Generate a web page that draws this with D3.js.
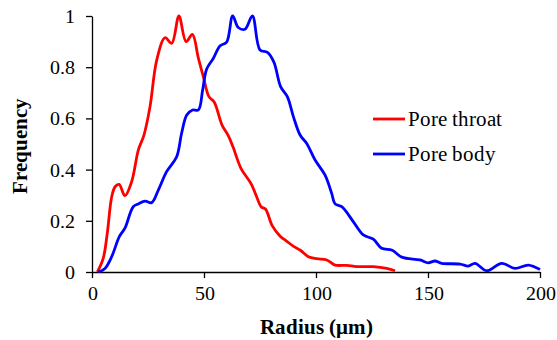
<!DOCTYPE html>
<html><head><meta charset="utf-8">
<script src="https://cdn.jsdelivr.net/npm/d3@7"></script>
<style>
@font-face{font-family:"ChartSerif";src:local("Liberation Serif"),local("LiberationSerif");font-weight:normal;}
@font-face{font-family:"ChartSerif";src:local("Liberation Serif Bold"),local("LiberationSerif-Bold");font-weight:bold;}
body{margin:0;background:#fff;}
svg text{font-family:"ChartSerif","Liberation Serif",serif;}
</style>
</head>
<body>
<svg id="chart" width="557" height="340"></svg>
<script>
const throatRadius = [2.4,5,6.8,8.8,10.3,12.1,14.7,17.7,20.7,23.2,25.9,28.9,32.6,35.6,38.8,42,44.8,47.5,49.7,52.2,54.6,58,61,63.1,66.5,71,73.5,75.5,77.5,80.5,84,87,90,93,96.6,100.3,104.8,108.5,113.7,118.2,125.6,131.6,135.3];
const throatFreq = [0,0.053,0.15,0.294,0.333,0.342,0.298,0.353,0.477,0.535,0.646,0.828,0.915,0.893,1.0,0.90,0.928,0.835,0.763,0.685,0.663,0.575,0.53,0.485,0.405,0.345,0.294,0.255,0.245,0.18,0.14,0.12,0.10,0.085,0.06,0.052,0.047,0.027,0.026,0.021,0.021,0.014,0.005];
const bodyRadius = [2.8,5.8,8.8,12.2,14.7,18.4,20.7,23.7,26.6,29.6,33.3,37.8,40,42.3,44.9,47.5,49.4,51.2,54.2,57.1,60.1,62.8,65.3,68.3,71.6,75,78.3,81.2,84.2,87.2,89.9,92.9,95.8,99.6,104,107,108.5,111.5,116.7,121.1,125.6,129.3,134,138.3,146.4,150.1,153.1,156.1,164.3,168,171,176.2,182.9,188.8,194.8,200];
const bodyFreq = [0,0.014,0.06,0.138,0.171,0.255,0.266,0.277,0.271,0.32,0.392,0.45,0.542,0.613,0.633,0.633,0.711,0.793,0.835,0.883,0.898,1.0,0.955,0.948,1.0,0.867,0.858,0.82,0.724,0.685,0.607,0.535,0.503,0.4375,0.379,0.307,0.266,0.255,0.196,0.145,0.128,0.093,0.085,0.058,0.047,0.036,0.043,0.034,0.031,0.023,0.034,0.005,0.034,0.014,0.027,0.01];
const xTicks = [0,50,100,150,200];
const yTicks = [0,0.2,0.4,0.6,0.8,1];
const seriesNames = ["Pore throat","Pore body"];
const seriesColors = ["#ff0000","#0000ff"];

const svg = d3.select("#chart");
const x = d3.scaleLinear().domain([0,200]).range([92,540]);
const y = d3.scaleLinear().domain([0,1]).range([272,16]);

function styleAxis(g){
  g.attr("font-family",null).attr("font-size",null);
  g.selectAll("path,line").attr("stroke","#000").attr("stroke-width",1.3);
  g.selectAll("text").attr("font-size",20).attr("fill","#000");
}
svg.append("g").attr("transform","translate(0,272)")
  .call(d3.axisBottom(x).tickValues(xTicks).tickSizeInner(6).tickSizeOuter(0).tickPadding(8).tickFormat(d3.format("d")))
  .call(styleAxis);
svg.append("g").attr("transform","translate(92,0)")
  .call(d3.axisLeft(y).tickValues(yTicks).tickSizeInner(6).tickSizeOuter(0).tickPadding(11).tickFormat(d=>String(d)))
  .call(styleAxis);

const series = [
  {name:seriesNames[0], color:seriesColors[0], pts:throatRadius.map((r,i)=>[r,throatFreq[i]])},
  {name:seriesNames[1], color:seriesColors[1], pts:bodyRadius.map((r,i)=>[r,bodyFreq[i]])}
];
const line = d3.line().x(d=>x(d[0])).y(d=>y(d[1])).curve(d3.curveCatmullRom.alpha(0.5));
series.forEach(s=>{
  svg.append("path").attr("d",line(s.pts)).attr("fill","none")
    .attr("stroke",s.color).attr("stroke-width",2.8).attr("stroke-linejoin","round");
});

series.forEach((s,i)=>{
  const yy = 119 + i*35;
  svg.append("line").attr("x1",373).attr("x2",405).attr("y1",yy).attr("y2",yy)
    .attr("stroke",s.color).attr("stroke-width",2.8);
  svg.append("text").attr("x",408).attr("y",yy+7).attr("font-size",21)
    .text(s.name);
});

svg.append("text").attr("x",316).attr("y",334).attr("text-anchor","middle")
  .attr("font-size",21).attr("font-weight","bold")
  .text("Radius (μm)");
svg.append("text").attr("transform","translate(27,146) rotate(-90)").attr("text-anchor","middle")
  .attr("font-size",21).attr("font-weight","bold")
  .text("Frequency");
</script>
</body></html>
